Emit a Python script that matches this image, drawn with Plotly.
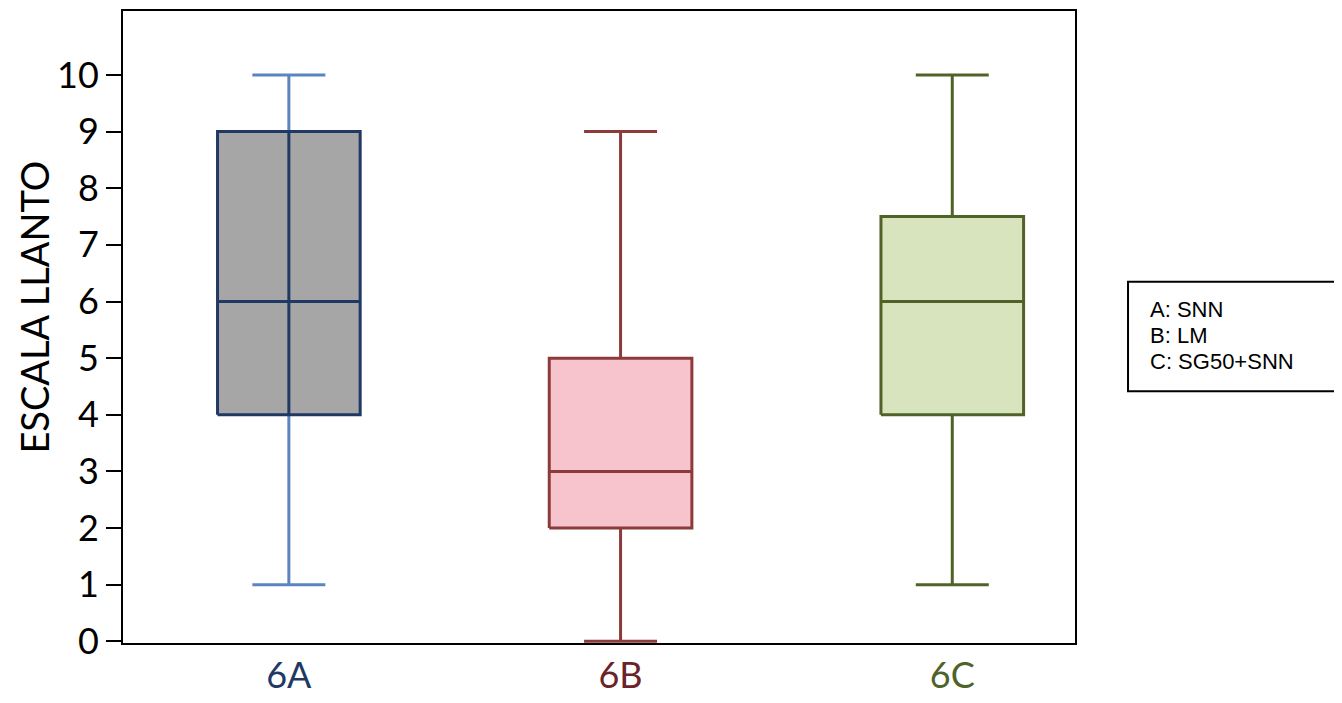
import plotly.graph_objects as go

# ---- data ----
groups = ["6A", "6B", "6C"]
mins = [1, 0, 1]
q1s = [4, 2, 4]
medians = [6, 3, 6]
q3s = [9, 5, 7.5]
maxs = [10, 9, 10]
legend_lines = ["A: SNN", "B: LM", "C: SG50+SNN"]
y_ticks = list(range(0, 11))

# ---- styles ----
fills = ["#a6a6a6", "#f7c4cd", "#d7e4bd"]
edges = ["#1f3864", "#8c3a3a", "#4f6228"]
whisk = ["#5b85c1", "#8c3a3a", "#4f6228"]
label_cols = ["#1f3864", "#6b2228", "#4f6228"]
BW = 0.215   # half box width
CW = 0.11    # half cap width
LW = 3

fig = go.Figure()
for i, g in enumerate(groups):
    x = i
    fig.add_trace(go.Scatter(x=[x, x, None, x, x], y=[mins[i], q1s[i], None, q3s[i], maxs[i]],
                             mode="lines", line=dict(color=whisk[i], width=LW), hoverinfo="skip"))
    fig.add_trace(go.Scatter(x=[x - CW, x + CW, None, x - CW, x + CW],
                             y=[mins[i], mins[i], None, maxs[i], maxs[i]],
                             mode="lines", line=dict(color=whisk[i], width=LW), hoverinfo="skip"))
    fig.add_trace(go.Scatter(x=[x - BW, x + BW, x + BW, x - BW, x - BW],
                             y=[q1s[i], q1s[i], q3s[i], q3s[i], q1s[i]],
                             mode="lines", fill="toself", fillcolor=fills[i],
                             line=dict(color=edges[i], width=LW), hoverinfo="skip"))
    if i == 0:
        fig.add_trace(go.Scatter(x=[x, x], y=[q1s[i], q3s[i]], mode="lines",
                                 line=dict(color=edges[i], width=LW), hoverinfo="skip"))
    fig.add_trace(go.Scatter(x=[x - BW, x + BW], y=[medians[i], medians[i]], mode="lines",
                             line=dict(color=edges[i], width=LW), hoverinfo="skip"))

ticktext = [f'<span style="color:{c}">{g}</span>' for g, c in zip(groups, label_cols)]

fig.update_layout(
    width=1334, height=695,
    margin=dict(l=115, r=267, t=1, b=60),
    paper_bgcolor="white", plot_bgcolor="white",
    showlegend=False,
    xaxis=dict(range=[-0.5, 2.37], tickvals=list(range(len(groups))), ticktext=ticktext,
               showgrid=False, zeroline=False, showline=True, linecolor="black", linewidth=2,
               mirror=True, ticks="", tickfont=dict(family="Lato", size=36, color="#1f3864")),
    yaxis=dict(range=[-0.03, 11.13], tickvals=y_ticks, showgrid=False, zeroline=False,
               showline=True, linecolor="black", linewidth=2, mirror=True,
               ticks="outside", ticklen=15, tickwidth=2, tickcolor="black",
               tickfont=dict(family="Lato", size=36, color="black")),
)

fig.add_annotation(text="ESCALA LLANTO", xref="paper", yref="paper", x=(34 - 123) / 952, y=0.5307,
                   textangle=-90, showarrow=False, xanchor="center", yanchor="middle",
                   font=dict(family="Lato", size=38, color="black"))

fig.add_shape(type="rect", xref="paper", yref="paper", x0=1.0557, x1=1.2763, y0=0.3984, y1=0.5717,
              line=dict(color="black", width=2), fillcolor="white")
for k, (txt, yp) in enumerate(zip(legend_lines, [308, 334, 360])):
    fig.add_annotation(text=txt, xref="paper", yref="paper", x=(1148 - 123) / 952,
                       y=(643 - yp) / 635, xanchor="left", yanchor="middle", showarrow=False,
                       font=dict(family="Liberation Sans", size=22, color="black"))

fig.write_html("out.html")
